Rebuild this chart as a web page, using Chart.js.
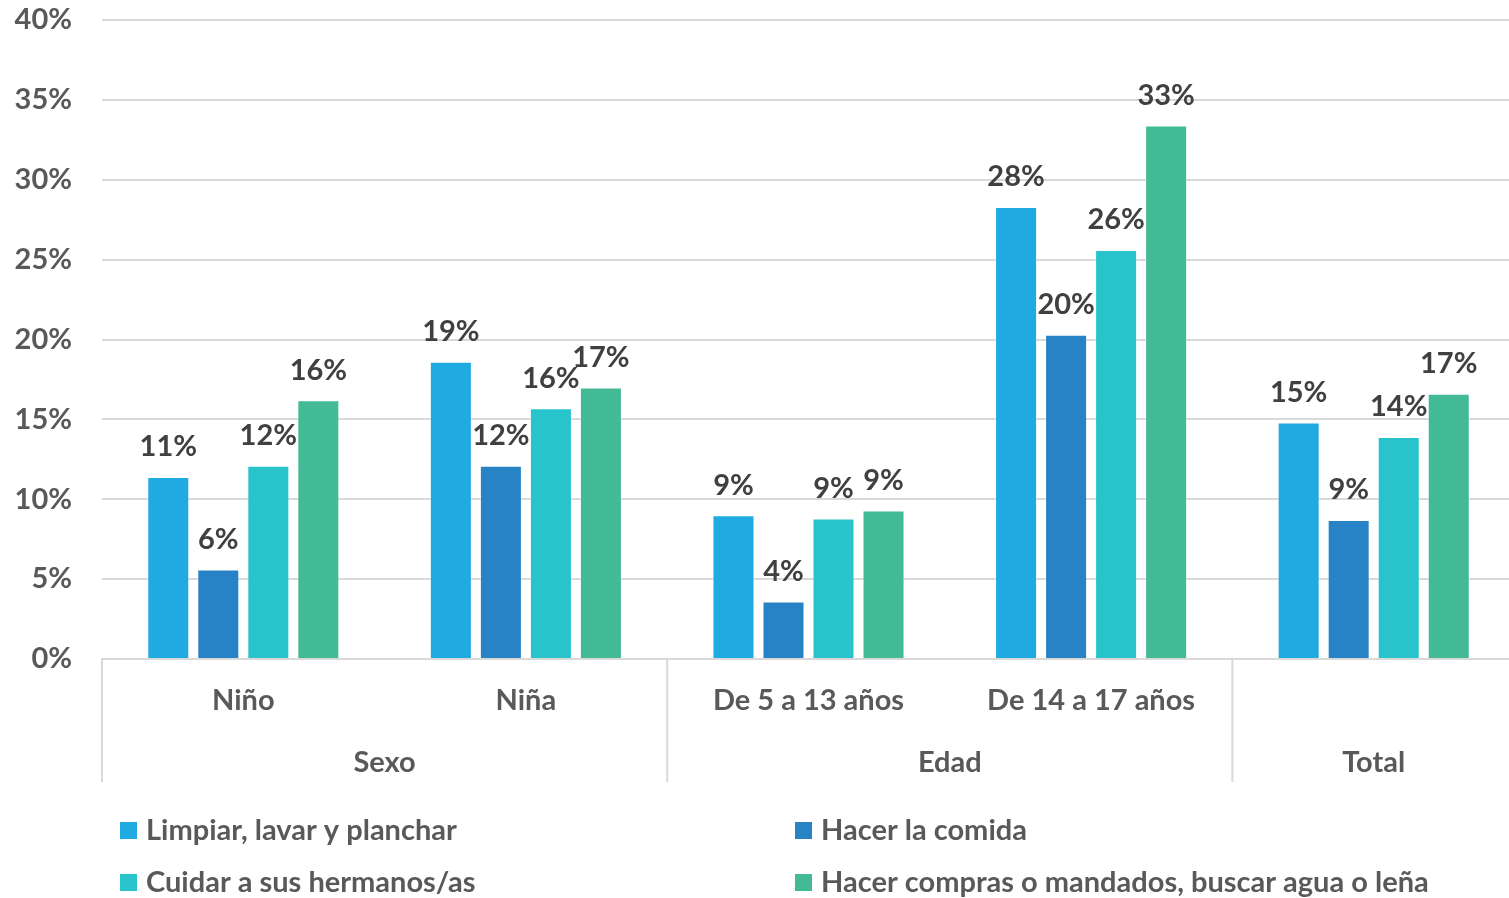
<!DOCTYPE html>
<html>
<head>
<meta charset="utf-8">
<script src="https://cdn.jsdelivr.net/npm/chart.js@4/dist/chart.umd.min.js"></script>
<style>
  html, body { margin: 0; padding: 0; background: #fff; overflow: hidden; }
  #wrap { width: 1515px; height: 898px; }
</style>
</head>
<body>
<div id="wrap"><canvas id="myChart"></canvas></div>
<script>
const categories = ['Niño', 'Niña', 'De 5 a 13 años', 'De 14 a 17 años', 'Total'];
const groups = [
  { label: 'Sexo', from: 0, to: 1 },
  { label: 'Edad', from: 2, to: 3 },
  { label: 'Total', from: 4, to: 4 }
];
const limpiar = [11.4, 18.6, 9.0, 28.3, 14.8];
const comida = [5.6, 12.1, 3.6, 20.3, 8.7];
const cuidar = [12.1, 15.7, 8.8, 25.6, 13.9];
const compras = [16.2, 17.0, 9.3, 33.4, 16.6];
const seriesNames = [
  'Limpiar, lavar y planchar',
  'Hacer la comida',
  'Cuidar a sus hermanos/as',
  'Hacer compras o mandados, buscar agua o leña'
];
const colors = ['#1FAAE2', '#2783C6', '#28C3CB', '#43BA96'];
const yTicks = [0, 5, 10, 15, 20, 25, 30, 35, 40];

const FONT = 'Lato, "Open Sans", sans-serif';
const SIZE = 29;
const TEXT = '#595959';
const LINE = '#d9d9d9';

// value labels above bars
const barLabels = {
  id: 'barLabels',
  afterDatasetsDraw(chart) {
    const ctx = chart.ctx;
    ctx.save();
    ctx.font = 'bold ' + SIZE + 'px ' + FONT;
    ctx.fillStyle = '#404040';
    ctx.textAlign = 'center';
    ctx.textBaseline = 'middle';
    chart.data.datasets.forEach((ds, i) => {
      chart.getDatasetMeta(i).data.forEach((bar, j) => {
        ctx.fillText(Math.round(ds.data[j]) + '%', bar.x, bar.y - 30);
      });
    });
    ctx.restore();
  }
};

// group row with separators + legend
const groupAxis = {
  id: 'groupAxis',
  afterDraw(chart) {
    const ctx = chart.ctx;
    const x = chart.scales.x;
    const area = chart.chartArea;
    const half = (x.getPixelForValue(1) - x.getPixelForValue(0)) / 2;
    ctx.save();
    ctx.strokeStyle = LINE;
    ctx.lineWidth = 2;
    const bounds = [x.getPixelForValue(0) - half];
    groups.forEach(g => bounds.push(x.getPixelForValue(g.to) + half));
    bounds.forEach(b => {
      ctx.beginPath();
      ctx.moveTo(b, area.bottom);
      ctx.lineTo(b, area.bottom + 123);
      ctx.stroke();
    });
    ctx.font = 'bold ' + SIZE + 'px ' + FONT;
    ctx.fillStyle = TEXT;
    ctx.textAlign = 'center';
    ctx.textBaseline = 'middle';
    groups.forEach(g => {
      const cx = (x.getPixelForValue(g.from) + x.getPixelForValue(g.to)) / 2;
      ctx.fillText(g.label, cx, area.bottom + 104);
    });

    // legend, two columns
    ctx.textAlign = 'left';
    const cols = [120, 795];
    const rows = [830, 882];
    seriesNames.forEach((name, i) => {
      const lx = cols[i % 2];
      const ly = rows[Math.floor(i / 2)];
      ctx.fillStyle = colors[i];
      ctx.fillRect(lx, ly - 8, 17, 17);
      ctx.fillStyle = TEXT;
      ctx.fillText(name, lx + 26, ly + 1);
    });
    ctx.restore();
  }
};

new Chart('myChart', {
  type: 'bar',
  data: {
    labels: categories,
    datasets: [limpiar, comida, cuidar, compras].map((d, i) => ({
      label: seriesNames[i],
      data: d,
      backgroundColor: colors[i],
      borderColor: 'rgba(255,255,255,0.35)',
      borderWidth: 1,
      categoryPercentage: 0.708,
      barPercentage: 0.84
    }))
  },
  options: {
    responsive: true,
    maintainAspectRatio: false,
    animation: false,
    layout: { padding: { top: 20, right: 0, bottom: 0, left: 0 } },
    plugins: {
      legend: { display: false },
      tooltip: { enabled: false }
    },
    scales: {
      x: {
        grid: { display: false, drawTicks: false },
        border: { display: true, color: LINE, width: 2 },
        ticks: {
          color: TEXT,
          font: { family: FONT, size: SIZE, weight: 'bold' },
          padding: 24,
          maxRotation: 0,
          // the single-category group shows only its group label
          callback(v, i) {
            const g = groups.find(g => i >= g.from && i <= g.to);
            return g.from === g.to ? '' : categories[i];
          }
        },
        afterFit(scale) { scale.height = 239; }
      },
      y: {
        min: 0,
        max: 40,
        afterBuildTicks(scale) { scale.ticks = yTicks.map(v => ({ value: v })); },
        grid: { color: LINE, lineWidth: 2, drawTicks: false },
        border: { display: false },
        ticks: {
          color: TEXT,
          font: { family: FONT, size: SIZE, weight: 'bold' },
          padding: 30,
          callback: v => v + '%'
        },
        afterFit(scale) {
          scale.width = 102;
          scale.paddingTop = 0;
          scale.paddingBottom = 0;
        }
      }
    }
  },
  plugins: [barLabels, groupAxis]
});
</script>
</body>
</html>
